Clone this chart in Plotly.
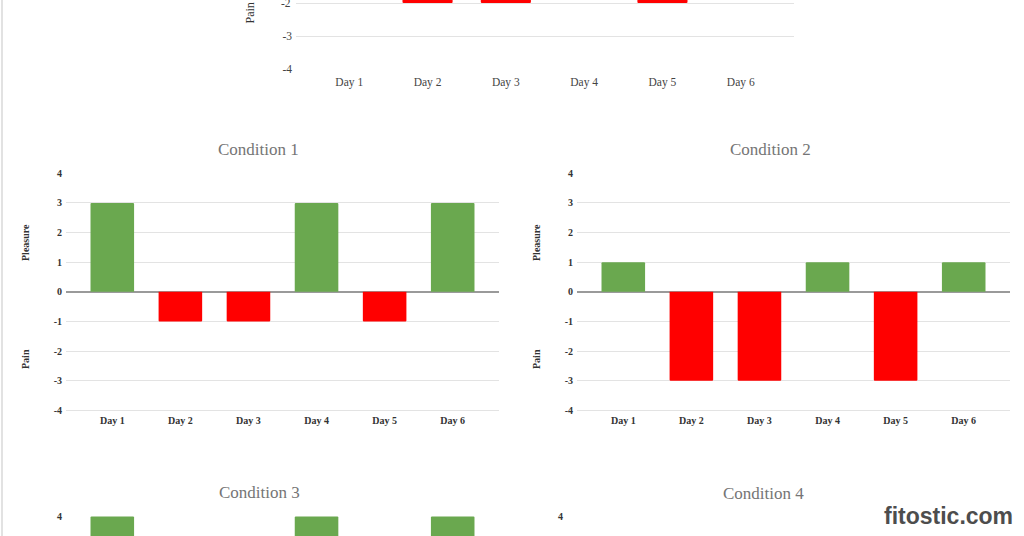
import plotly.graph_objects as go

W, H = 1024, 536

days = ["Day 1", "Day 2", "Day 3", "Day 4", "Day 5", "Day 6"]
y_ticks = [-4, -3, -2, -1, 0, 1, 2, 3, 4]
y_tick_text = ["-4", "-3", "-2", "-1", "0", "1", "2", "3", "4"]

# values (hidden parts guessed)
top_values = [2, -2, -2, 2, -2, 2]
cond1_values = [3, -1, -1, 3, -1, 3]
cond2_values = [1, -3, -3, 1, -3, 1]
cond3_values = [4, -2, -2, 4, -2, 4]
cond4_values = [2, -4, -4, 2, -4, 2]

titles = ["Condition 1", "Condition 2", "Condition 3", "Condition 4"]

GREEN = "#6aa84f"
RED = "#ff0000"
SERIF = "Liberation Serif, Times New Roman, serif"


def px_x(x):
    return x / W


def px_y(y):
    return 1 - y / H


# pixel boxes of each chart (one extra pixel so the edge gridlines survive)
u_top, u = 33.0, 29.6
charts = [
    dict(vals=top_values, x0=296, x1=794,
         yrange=[-4 - 1 / u_top, -4 + 69 / u_top], ydom=[px_y(70), 1.0], big=True, xlabels=True),
    dict(vals=cond1_values, x0=66, x1=499,
         yrange=[-4 - 1 / u, 4 + 1 / u], ydom=[px_y(411.3), px_y(172.3)], big=False, xlabels=True),
    dict(vals=cond2_values, x0=577, x1=1010,
         yrange=[-4 - 1 / u, 4 + 1 / u], ydom=[px_y(411.3), px_y(172.3)], big=False, xlabels=True),
    dict(vals=cond3_values, x0=66, x1=499,
         yrange=[4 - 19.5 / u, 4 + 1 / u], ydom=[0.0, px_y(515.5)], big=False, xlabels=False),
    dict(vals=cond4_values, x0=567, x1=1003,
         yrange=[4 - 19.5 / u, 4 + 1 / u], ydom=[0.0, px_y(515.5)], big=False, xlabels=False),
]

fig = go.Figure()
layout = {}

for i, c in enumerate(charts):
    n = "" if i == 0 else str(i + 1)
    colors = [GREEN if v >= 0 else RED for v in c["vals"]]
    fig.add_trace(
        go.Bar(
            x=days,
            y=c["vals"],
            marker=dict(color=colors, line=dict(width=0), cornerradius=1),
            width=0.64,
            xaxis="x" + n,
            yaxis="y" + n,
            showlegend=False,
            hoverinfo="x+y",
        )
    )
    if c["big"]:
        tick_font = dict(family=SERIF, size=11.5, color="#444444")
    else:
        tick_font = dict(family=SERIF, size=10, color="#333333", weight="bold")
    layout["xaxis" + n] = dict(
        domain=[px_x(c["x0"]), px_x(c["x1"])],
        range=[-0.68, 5.68],
        anchor="y" + n,
        automargin=False,
        showgrid=False,
        showline=False,
        zeroline=False,
        ticks="",
        showticklabels=c["xlabels"],
        tickfont=tick_font,
        ticklabelstandoff=3 if c["big"] else 2,
        fixedrange=True,
    )
    layout["yaxis" + n] = dict(
        domain=c["ydom"],
        range=c["yrange"],
        anchor="x" + n,
        automargin=False,
        tickvals=y_ticks,
        ticktext=y_tick_text,
        showgrid=True,
        gridcolor="#e3e3e3",
        gridwidth=1,
        zeroline=True,
        zerolinecolor="#9a9a9a",
        zerolinewidth=1.6,
        showline=False,
        ticks="",
        tickfont=tick_font,
        ticklabelstandoff=3,
        fixedrange=True,
    )

annotations = []
# chart titles
for t, (cx, cy) in zip(titles, [(258, 149), (770, 149), (259, 492), (763, 493)]):
    annotations.append(
        dict(text=t, x=px_x(cx), y=px_y(cy), xref="paper", yref="paper",
             showarrow=False, font=dict(family=SERIF, size=17, color="#757575"),
             xanchor="center", yanchor="middle")
    )

# plotly drops the "-2" tick label of the top chart since it sits on the page edge
annotations.append(
    dict(text="-2", x=-0.68, xref="x", y=-2, yref="y", xanchor="right", yanchor="middle",
         xshift=-3, showarrow=False, font=dict(family=SERIF, size=11.5, color="#444444"))
)

# vertical axis captions
for lbl, cx, cy, size, wt in [
    ("Pain", 249, 13.5, 12, "normal"),
    ("Pleasure", 25, 243, 10, "bold"),
    ("Pain", 25, 359, 10, "bold"),
    ("Pleasure", 536, 243, 10, "bold"),
    ("Pain", 536, 359, 10, "bold"),
]:
    annotations.append(
        dict(text=lbl, x=px_x(cx), y=px_y(cy), xref="paper", yref="paper",
             showarrow=False, textangle=-90,
             font=dict(family=SERIF, size=size, color="#333333", weight=wt),
             xanchor="center", yanchor="middle")
    )

# site watermark
annotations.append(
    dict(text="<b>fitostic.com</b>", x=px_x(948), y=px_y(516), xref="paper", yref="paper",
         showarrow=False, font=dict(family="Liberation Sans, Arial, sans-serif", size=23, color="#4d4d4d"),
         xanchor="center", yanchor="middle")
)

fig.update_layout(
    **layout,
    annotations=annotations,
    width=W,
    height=H,
    margin=dict(l=0, r=0, t=0, b=0, autoexpand=False),
    paper_bgcolor="white",
    plot_bgcolor="white",
    shapes=[
        dict(type="line", xref="paper", yref="paper", x0=px_x(2), x1=px_x(2), y0=0, y1=1,
             line=dict(color="#e2e2e2", width=2))
    ],
)

# pin the figure to the top-left corner of the window
pin = (
    "document.body.style.margin='0';document.body.style.overflow='hidden';"
    "var g=document.querySelector('.plotly-graph-div');"
    "g.style.position='fixed';g.style.top='0px';g.style.left='0px';"
)

fig.write_html("out.html", config={"displayModeBar": False}, post_script=pin)
